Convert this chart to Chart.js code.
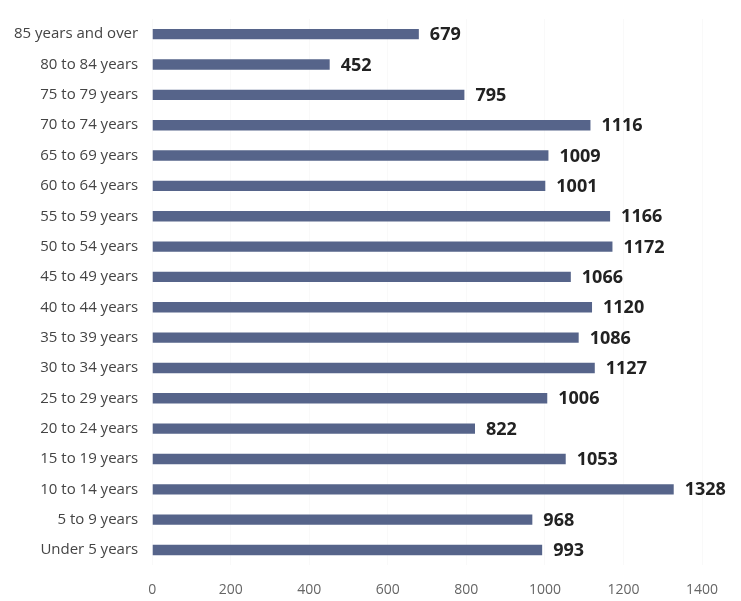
<!DOCTYPE html>
<html>
<head>
<meta charset="utf-8">
<script src="https://cdn.jsdelivr.net/npm/chart.js@4"></script>
<style>
  html, body { margin: 0; padding: 0; background: #ffffff; }
  #wrap { width: 741px; height: 601px; position: relative; }
</style>
</head>
<body>
<div id="wrap"><canvas id="ageChart"></canvas></div>
<script>
// Categorias y valores (de arriba hacia abajo)
const ageGroups = [
    '85 years and over', '80 to 84 years', '75 to 79 years', '70 to 74 years',
    '65 to 69 years', '60 to 64 years', '55 to 59 years', '50 to 54 years',
    '45 to 49 years', '40 to 44 years', '35 to 39 years', '30 to 34 years',
    '25 to 29 years', '20 to 24 years', '15 to 19 years', '10 to 14 years',
    '5 to 9 years', 'Under 5 years'
];
const population = [
    679, 452, 795, 1116,
    1009, 1001, 1166, 1172,
    1066, 1120, 1086, 1127,
    1006, 822, 1053, 1328,
    968, 993
];
const xTicks = [0, 200, 400, 600, 800, 1000, 1200, 1400];

// Etiquetas de valor al final de cada barra
const valueLabels = {
    id: 'valueLabels',
    afterDatasetsDraw(chart) {
        const ctx = chart.ctx;
        const meta = chart.getDatasetMeta(0);
        ctx.save();
        ctx.font = 'bold 18px "Open Sans", sans-serif';
        ctx.fillStyle = '#222222';
        ctx.textAlign = 'left';
        ctx.textBaseline = 'middle';
        meta.data.forEach((bar, i) => {
            ctx.fillText(String(population[i]), bar.x + 11, bar.y + 1);
        });
        ctx.restore();
    }
};

const ctx = document.getElementById('ageChart').getContext('2d');
new Chart(ctx, {
    type: 'bar',
    data: {
        labels: ageGroups,
        datasets: [{
            label: 'Population',
            data: population,
            backgroundColor: '#56648a',
            borderWidth: 0,
            barPercentage: 0.38,
            categoryPercentage: 0.9
        }]
    },
    options: {
        indexAxis: 'y',
        responsive: true,
        maintainAspectRatio: false,
        animation: false,
        layout: {
            padding: { top: 19, right: 39, bottom: -13, left: 0 }
        },
        plugins: {
            legend: { display: false },
            tooltip: { enabled: false }
        },
        scales: {
            x: {
                min: 0,
                max: 1400,
                afterBuildTicks(axis) {
                    axis.ticks = xTicks.map(v => ({ value: v }));
                },
                ticks: {
                    color: '#666666',
                    font: { family: '"Open Sans", sans-serif', size: 14 },
                    padding: 16,
                    callback: v => String(v)
                },
                grid: { color: 'rgba(0,0,0,0.025)', drawTicks: false },
                border: { display: false }
            },
            y: {
                // sin margen extra arriba/abajo por el padding de las etiquetas
                afterFit(scale) {
                    scale.paddingTop = 0;
                    scale.paddingBottom = 0;
                },
                ticks: {
                    color: '#444444',
                    font: { family: '"Open Sans", sans-serif', size: 15 },
                    padding: 14
                },
                grid: { display: false, drawTicks: false },
                border: { display: false }
            }
        }
    },
    plugins: [valueLabels]
});
</script>
</body>
</html>
